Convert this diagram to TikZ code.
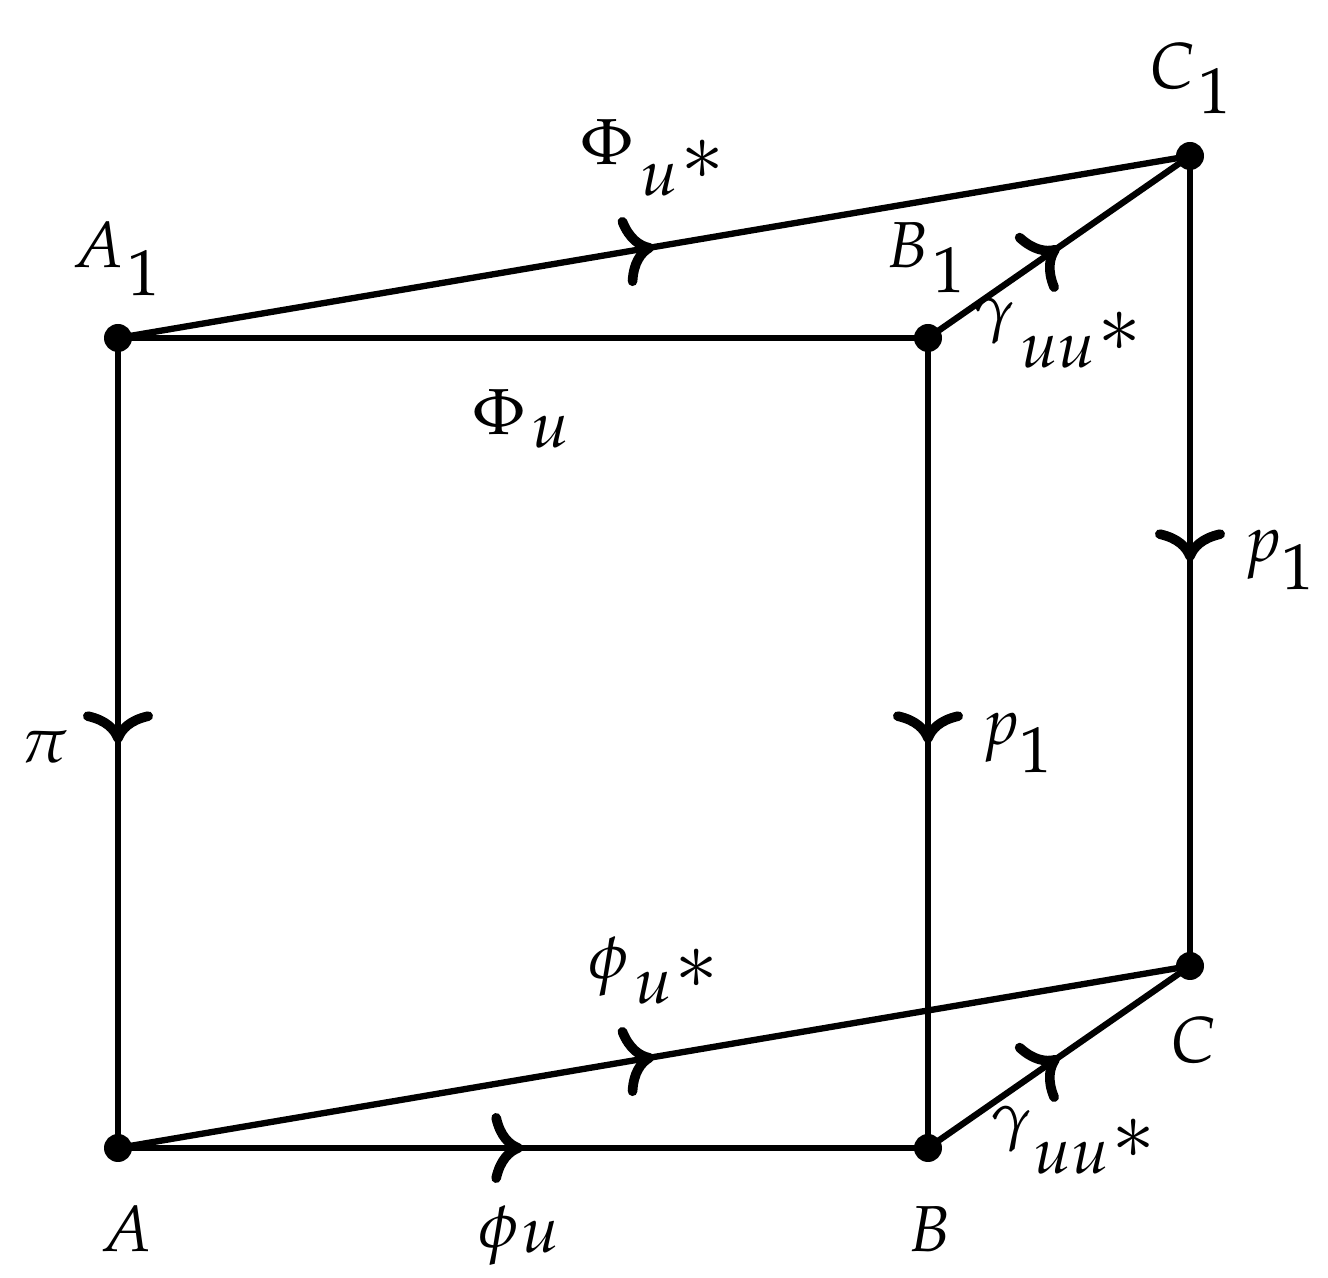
\documentclass[tikz,border=0pt]{standalone}
\usepackage{mathpazo}
\usepackage{graphicx}
\usetikzlibrary{arrows.meta,decorations.markings}
\newcommand\lowr[2]{\raisebox{-#1}{$#2$}}
\newcommand\bigast{\kern0.03em\raisebox{0.24em}{\scalebox{1.25}{$\ast$}}}
\begin{document}
\begin{tikzpicture}[x=0.3pt,y=-0.3pt,
  edge/.style={line width=1.9pt},
  midarrow/.style={postaction={decorate},decoration={markings,mark=at position 0.5 with {\arrow{Computer Modern Rightarrow[length=9.5pt,width=21pt,line width=2.9pt]}}}},
  dot/.style={circle,fill,inner sep=0pt,minimum size=8.4pt},
  lab/.style={anchor=base west,inner sep=0pt,font=\fontsize{19.5}{23}\selectfont}]
\useasboundingbox (0,0) rectangle (1328,1278);
\node[dot] (A1) at (118,338) {};
\node[dot] (B1) at (928,338) {};
\node[dot] (C1) at (1190,156) {};
\node[dot] (A) at (118,1148) {};
\node[dot] (B) at (928,1148) {};
\node[dot] (C) at (1190,966) {};
\draw[edge,midarrow] (A1.center) -- (A.center);
\draw[edge] (A1.center) -- (B1.center);
\draw[edge,midarrow] (A1.center) -- (C1.center);
\draw[edge,midarrow] (B1.center) -- (C1.center);
\draw[edge,midarrow] (B1.center) -- (B.center);
\draw[edge,midarrow] (C1.center) -- (C.center);
\draw[edge,midarrow] (A.center) -- (B.center);
\draw[edge,midarrow] (A.center) -- (C.center);
\draw[edge,midarrow] (B.center) -- (C.center);
% labels
\node[lab] (lA1) at (72,268) {$A$\kern0.05em\lowr{0.42em}{1}};
\node[lab] (lB1) at (886,268) {$B$\kern0.05em\lowr{0.38em}{1}};
\node[lab] (lC1) at (1149,89) {$C$\kern0.05em\lowr{0.38em}{1}};
\node[lab] (lA) at (100,1252) {$A$};
\node[lab] (lB) at (908,1252) {$B$};
\node[lab] (lC) at (1170,1063) {$C$};
\node[lab] (lpi) at (20,763) {$\pi$};
\node[lab] (lPhiu) at (472,435) {$\Phi$\kern0.1em\lowr{0.2em}{u}};
\node[lab] (lPhius) at (580,165) {$\Phi$\kern0.12em\lowr{0.47em}{u\bigast}};
\node[lab] (lphius) at (588,979) {$\phi$\kern0.1em\lowr{0.38em}{u\bigast}};
\node[lab] (lphiu) at (478,1248) {$\phi$\kern0.05em\lowr{0.07em}{u}};
\node[lab] (lg1) at (973,330) {$\gamma$\kern0.08em\lowr{0.57em}{uu\bigast}};
\node[lab] (lg2) at (990,1138) {$\gamma$\kern0.03em\lowr{0.55em}{uu\bigast}};
\node[lab] (lp1) at (1243,562) {$p$\lowr{0.42em}{1}};
\node[lab] (lp2) at (981,745) {$p$\lowr{0.42em}{1}};
\end{tikzpicture}
\end{document}
